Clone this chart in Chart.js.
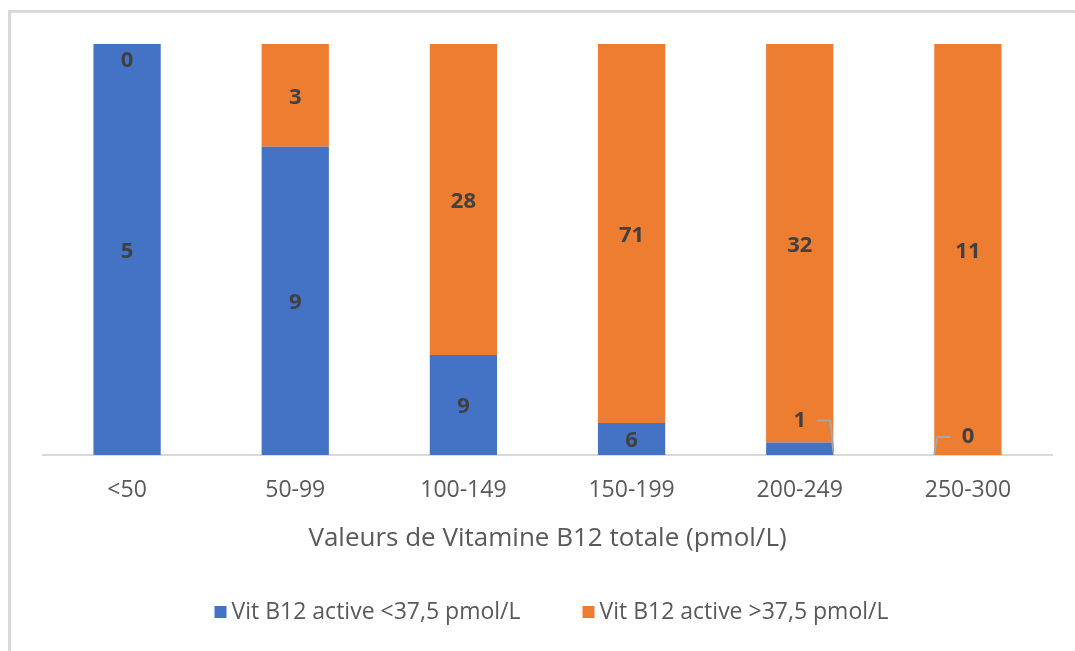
<!DOCTYPE html>
<html>
<head>
<meta charset="utf-8">
<script src="https://cdn.jsdelivr.net/npm/chart.js@4/dist/chart.umd.min.js"></script>
<style>
  html, body { margin: 0; padding: 0; background: #fff; }
  #wrap { position: relative; width: 1075px; height: 651px; }
</style>
</head>
<body>
<div id="wrap"><canvas id="chart" width="1075" height="651"></canvas></div>
<script>
const categories = ['<50', '50-99', '100-149', '150-199', '200-249', '250-300'];
const lowActive = [5, 9, 9, 6, 1, 0];
const highActive = [0, 3, 28, 71, 32, 11];
const seriesNames = ['Vit B12 active <37,5 pmol/L', 'Vit B12 active >37,5 pmol/L'];
const seriesColors = ['#4472C4', '#ED7D31'];
const axisTitle = 'Valeurs de Vitamine B12 totale (pmol/L)';

const totals = categories.map((c, i) => lowActive[i] + highActive[i]);
const toPct = arr => arr.map((v, i) => v / totals[i] * 100);
const rawCounts = [lowActive, highActive];
const FONT = "'Open Sans'";

// frame around the chart (light gray, left + top only visible)
const framePlugin = {
  id: 'frame',
  beforeDraw(chart) {
    const ctx = chart.ctx;
    ctx.save();
    ctx.fillStyle = '#fff';
    ctx.fillRect(0, 0, chart.width, chart.height);
    ctx.strokeStyle = '#d9d9d9';
    ctx.lineWidth = 3;
    ctx.beginPath();
    ctx.moveTo(9.5, chart.height);
    ctx.lineTo(9.5, 11.5);
    ctx.lineTo(chart.width, 11.5);
    ctx.stroke();
    ctx.restore();
  }
};

// value labels inside the segments, small ones pushed out with a leader line
const labelPlugin = {
  id: 'segLabels',
  afterDatasetsDraw(chart) {
    const ctx = chart.ctx;
    ctx.save();
    ctx.font = 'bold 22px ' + FONT;
    ctx.fillStyle = '#404040';
    ctx.textAlign = 'center';
    ctx.textBaseline = 'middle';
    ctx.strokeStyle = '#a6a6a6';
    ctx.lineWidth = 2;
    chart.data.datasets.forEach((ds, d) => {
      const meta = chart.getDatasetMeta(d);
      meta.data.forEach((el, i) => {
        const v = rawCounts[d][i];
        const h = el.base - el.y;
        const x = el.x, w = el.width;
        if (h >= 25) {
          ctx.fillText(v, x, (el.y + el.base) / 2 + 2);
        } else if (d === 1) {
          ctx.fillText(v, x, el.y + 17);
        } else {
          const ly = v > 0 ? el.y - 22 : el.y - 18;
          ctx.fillText(v, x, ly);
          ctx.beginPath();
          if (v > 0) {
            ctx.moveTo(x + w / 2, el.base - 3);
            ctx.lineTo(x + w / 2 - 3, ly);
            ctx.lineTo(x + 17, ly);
          } else {
            ctx.moveTo(x - w / 2, el.base);
            ctx.lineTo(x - w / 2 + 3, ly);
            ctx.lineTo(x - 17, ly);
          }
          ctx.stroke();
        }
      });
    });
    ctx.restore();
  }
};

// legend drawn by hand so spacing matches the original
const legendPlugin = {
  id: 'manualLegend',
  afterDraw(chart) {
    const ctx = chart.ctx;
    const box = 12, gap = 5, spacing = 62, y = 612;
    ctx.save();
    ctx.font = '23px ' + FONT;
    ctx.textBaseline = 'middle';
    const widths = seriesNames.map(n => ctx.measureText(n).width);
    const total = widths.reduce((a, b) => a + b, 0) + 2 * (box + gap) + spacing;
    const center = (chart.chartArea.left + chart.chartArea.right) / 2 + 4;
    let x = center - total / 2;
    seriesNames.forEach((n, k) => {
      ctx.fillStyle = seriesColors[k];
      ctx.fillRect(x, y - box / 2, box, box);
      x += box + gap;
      ctx.fillStyle = '#595959';
      ctx.fillText(n, x, y);
      x += widths[k] + spacing;
    });
    ctx.restore();
  }
};

new Chart(document.getElementById('chart'), {
  type: 'bar',
  data: {
    labels: categories,
    datasets: [
      { label: seriesNames[0], data: toPct(lowActive), backgroundColor: seriesColors[0] },
      { label: seriesNames[1], data: toPct(highActive), backgroundColor: seriesColors[1] }
    ]
  },
  options: {
    responsive: false,
    animation: false,
    events: [],
    datasets: { bar: { categoryPercentage: 1, barPercentage: 0.4 } },
    layout: { padding: { left: 43, right: 23, top: 44, bottom: 0 } },
    scales: {
      x: {
        stacked: true,
        grid: { display: false },
        border: { display: true, color: '#d9d9d9', width: 2 },
        ticks: { color: '#595959', font: { family: FONT, size: 23 }, padding: 14 },
        title: {
          display: true, text: axisTitle, color: '#595959',
          font: { family: FONT, size: 26 }, padding: { top: 0, bottom: 97 }
        },
        afterFit(scale) { scale.height = 196; }
      },
      y: { stacked: true, min: 0, max: 100, display: false }
    },
    plugins: {
      legend: { display: false },
      tooltip: { enabled: false }
    }
  },
  plugins: [framePlugin, labelPlugin, legendPlugin]
});
</script>
</body>
</html>
